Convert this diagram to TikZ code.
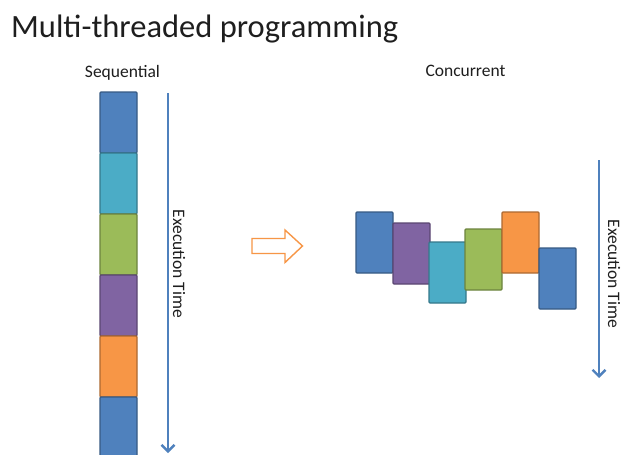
\documentclass[tikz,border=0pt]{standalone}
\usepackage{fontspec}
\setmainfont{Carlito}
\usetikzlibrary{arrows.meta, positioning}

\definecolor{taskblue}{HTML}{4F81BD}
\definecolor{taskteal}{HTML}{4BACC6}
\definecolor{taskgreen}{HTML}{9BBB59}
\definecolor{taskpurple}{HTML}{8064A2}
\definecolor{taskorange}{HTML}{F79646}
\definecolor{inktext}{HTML}{1E1E1E}

\tikzset{
  task/.style={draw=#1!70!black, fill=#1, line width=1.2pt, rounded corners=1pt,
    minimum width=37pt, minimum height=61pt, inner sep=0pt, outer sep=0pt,
    anchor=north west},
  timeline/.style={draw=taskblue, line width=2.6pt,
    -{Straight Barb[length=6.5pt,width=13pt,line width=2.4pt]}},
  smalltext/.style={text=inktext, font=\fontsize{17.5}{20}\selectfont},
}

\begin{document}
\begin{tikzpicture}[x=1pt, y=-1pt]
  \clip (0,0) rectangle (621,455);
  \fill[white] (0,0) rectangle (621,455);

  % title and column labels
  \node[anchor=base west, inner sep=0pt, text=inktext,
        font=\fontsize{32.5}{38}\selectfont] (title) at (11,37) {Multi-threaded programming};
  \node[smalltext, anchor=base, inner sep=0pt] (seqlabel) at (122.5,77) {Sequential};
  \node[smalltext, anchor=base, inner sep=0pt] (conlabel) at (465.5,76) {Concurrent};

  % sequential: one task after the other
  \foreach \col [count=\i] in {taskblue,taskteal,taskgreen,taskpurple,taskorange,taskblue}
    \node[task=\col] (seq\i) at (100,{92+61*(\i-1)}) {};

  \coordinate (seqtop) at (168,93);
  \coordinate (seqend) at (168,453);
  \draw[timeline] (seqtop) -- (seqend);
  \node[smalltext, rotate=-90] (seqtime) at (179,264) {Execution Time};

  % hollow arrow between the two
  \draw[draw=taskorange, line width=1.4pt, line join=miter]
    (252,238.5) -- (285,238.5) -- (285,230) -- (302.5,246)
    -- (285,262.5) -- (285,253.5) -- (252,253.5) -- cycle;

  % concurrent: tasks overlap in time
  \node[task=taskblue]   (con1) at (356,212) {};
  \node[task=taskpurple] (con2) at (393,223) {};
  \node[task=taskteal]   (con3) at (429,242) {};
  \node[task=taskgreen]  (con4) at (465,229) {};
  \node[task=taskorange] (con5) at (502,212) {};
  \node[task=taskblue]   (con6) at (539,248) {};

  \coordinate (contop) at (599,160);
  \coordinate (conend) at (599,378);
  \draw[timeline] (contop) -- (conend);
  \node[smalltext, rotate=-90] (contime) at (614,274) {Execution Time};
\end{tikzpicture}
\end{document}
